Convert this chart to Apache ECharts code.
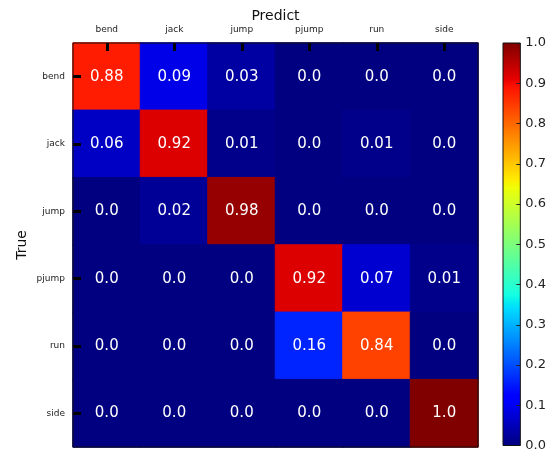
<!DOCTYPE html>
<html>
<head>
<meta charset="utf-8">
<script src="https://cdn.jsdelivr.net/npm/echarts@6/dist/echarts.min.js"></script>
<style>
  html, body { margin: 0; padding: 0; background: #fff; }
  #chart { width: 549px; height: 452px; }
</style>
</head>
<body>
<div id="chart"></div>
<script>
// Class names (predicted along the top, true down the side)
const classes = ['bend', 'jack', 'jump', 'pjump', 'run', 'side'];

// Normalised confusion matrix, one row per true class
const rowBend  = [0.88, 0.09, 0.03, 0.0, 0.0, 0.0];
const rowJack  = [0.06, 0.92, 0.01, 0.0, 0.01, 0.0];
const rowJump  = [0.0, 0.02, 0.98, 0.0, 0.0, 0.0];
const rowPjump = [0.0, 0.0, 0.0, 0.92, 0.07, 0.01];
const rowRun   = [0.0, 0.0, 0.0, 0.16, 0.84, 0.0];
const rowSide  = [0.0, 0.0, 0.0, 0.0, 0.0, 1.0];
const matrix = [rowBend, rowJack, rowJump, rowPjump, rowRun, rowSide];

// Colour bar ticks
const barTicks = [0.0, 0.1, 0.2, 0.3, 0.4, 0.5, 0.6, 0.7, 0.8, 0.9, 1.0];

// "jet" colour map, piecewise-linear segment definition
const jetR = [[0, 0], [0.35, 0], [0.66, 1], [0.89, 1], [1, 0.5]];
const jetG = [[0, 0], [0.125, 0], [0.375, 1], [0.64, 1], [0.91, 0], [1, 0]];
const jetB = [[0, 0.5], [0.11, 1], [0.34, 1], [0.65, 0], [1, 0]];

function seg(table, t) {
  for (let i = 1; i < table.length; i++) {
    if (t <= table[i][0]) {
      const [x0, y0] = table[i - 1], [x1, y1] = table[i];
      return y0 + (y1 - y0) * (t - x0) / (x1 - x0);
    }
  }
  return table[table.length - 1][1];
}
function jet(t) {
  const c = v => Math.round(v * 255);
  return 'rgb(' + c(seg(jetR, t)) + ',' + c(seg(jetG, t)) + ',' + c(seg(jetB, t)) + ')';
}
const N_STOPS = 201;
const jetStops = [];
for (let i = 0; i < N_STOPS; i++) {
  const t = i / (N_STOPS - 1);
  jetStops.push({ offset: t, color: jet(t) });
}

// Each cell coloured through the jet map; a matching border hides seams
const heatData = [];
matrix.forEach((row, r) => row.forEach((v, c) => {
  const col = jet(v);
  heatData.push({ value: [c, r, v], itemStyle: { color: col, borderColor: col, borderWidth: 1 } });
}));

function fmt(v) { return Number.isInteger(v) ? v.toFixed(1) : String(v); }

const FONT = 'DejaVu Sans';
const chart = echarts.init(document.getElementById('chart'), null, { renderer: 'canvas' });

chart.setOption({
  animation: false,
  textStyle: { fontFamily: FONT },
  grid: [
    { left: 73, top: 43, width: 405, height: 404, show: true, z: 10,
      borderColor: '#111', borderWidth: 1, backgroundColor: 'transparent' },
    { left: 503, top: 43, width: 21, height: 404, show: true, z: 10,
      borderColor: '#111', borderWidth: 1, backgroundColor: 'transparent' }
  ],
  xAxis: [
    {
      gridIndex: 0, type: 'category', data: classes, position: 'top', z: 5,
      name: 'Predict', nameLocation: 'middle', nameGap: 20, nameMoveOverlap: false,
      nameTextStyle: { fontSize: 14, color: '#111', fontFamily: FONT },
      axisLine: { show: false },
      axisTick: { show: true, inside: true, alignWithLabel: true, length: 8,
                  lineStyle: { color: '#000', width: 3 } },
      axisLabel: { fontSize: 9, color: '#222', margin: 9, fontFamily: FONT },
      splitLine: { show: false }
    },
    {
      gridIndex: 1, type: 'category', data: ['scale'], show: false
    }
  ],
  yAxis: [
    {
      gridIndex: 0, type: 'category', data: classes, inverse: true, z: 5,
      name: 'True', nameLocation: 'middle', nameGap: 44, nameRotate: 90, nameMoveOverlap: false,
      nameTextStyle: { fontSize: 14, color: '#111', fontFamily: FONT },
      axisLine: { show: false },
      axisTick: { show: true, inside: true, alignWithLabel: true, length: 8,
                  lineStyle: { color: '#000', width: 3 } },
      axisLabel: { fontSize: 9, color: '#222', margin: 8, fontFamily: FONT },
      splitLine: { show: false }
    },
    {
      gridIndex: 1, type: 'value', position: 'right', z: 5,
      min: barTicks[0], max: barTicks[barTicks.length - 1], interval: 0.1,
      axisLine: { show: false },
      axisTick: { show: true, inside: true, length: 4, lineStyle: { color: '#222', width: 1 } },
      axisLabel: { fontSize: 13, color: '#222', margin: 5, fontFamily: FONT,
                   formatter: v => v.toFixed(1) },
      splitLine: { show: false }
    }
  ],
  series: [
    {
      type: 'heatmap', xAxisIndex: 0, yAxisIndex: 0, data: heatData,
      label: {
        show: true, color: '#fff', fontSize: 15, fontFamily: FONT,
        formatter: p => fmt(p.value[2])
      },
      emphasis: { disabled: true }
    },
    {
      type: 'bar', xAxisIndex: 1, yAxisIndex: 1, data: [barTicks[barTicks.length - 1]],
      barWidth: '100%', silent: true,
      itemStyle: {
        color: { type: 'linear', x: 0, y: 1, x2: 0, y2: 0, colorStops: jetStops }
      }
    }
  ]
});
</script>
</body>
</html>
